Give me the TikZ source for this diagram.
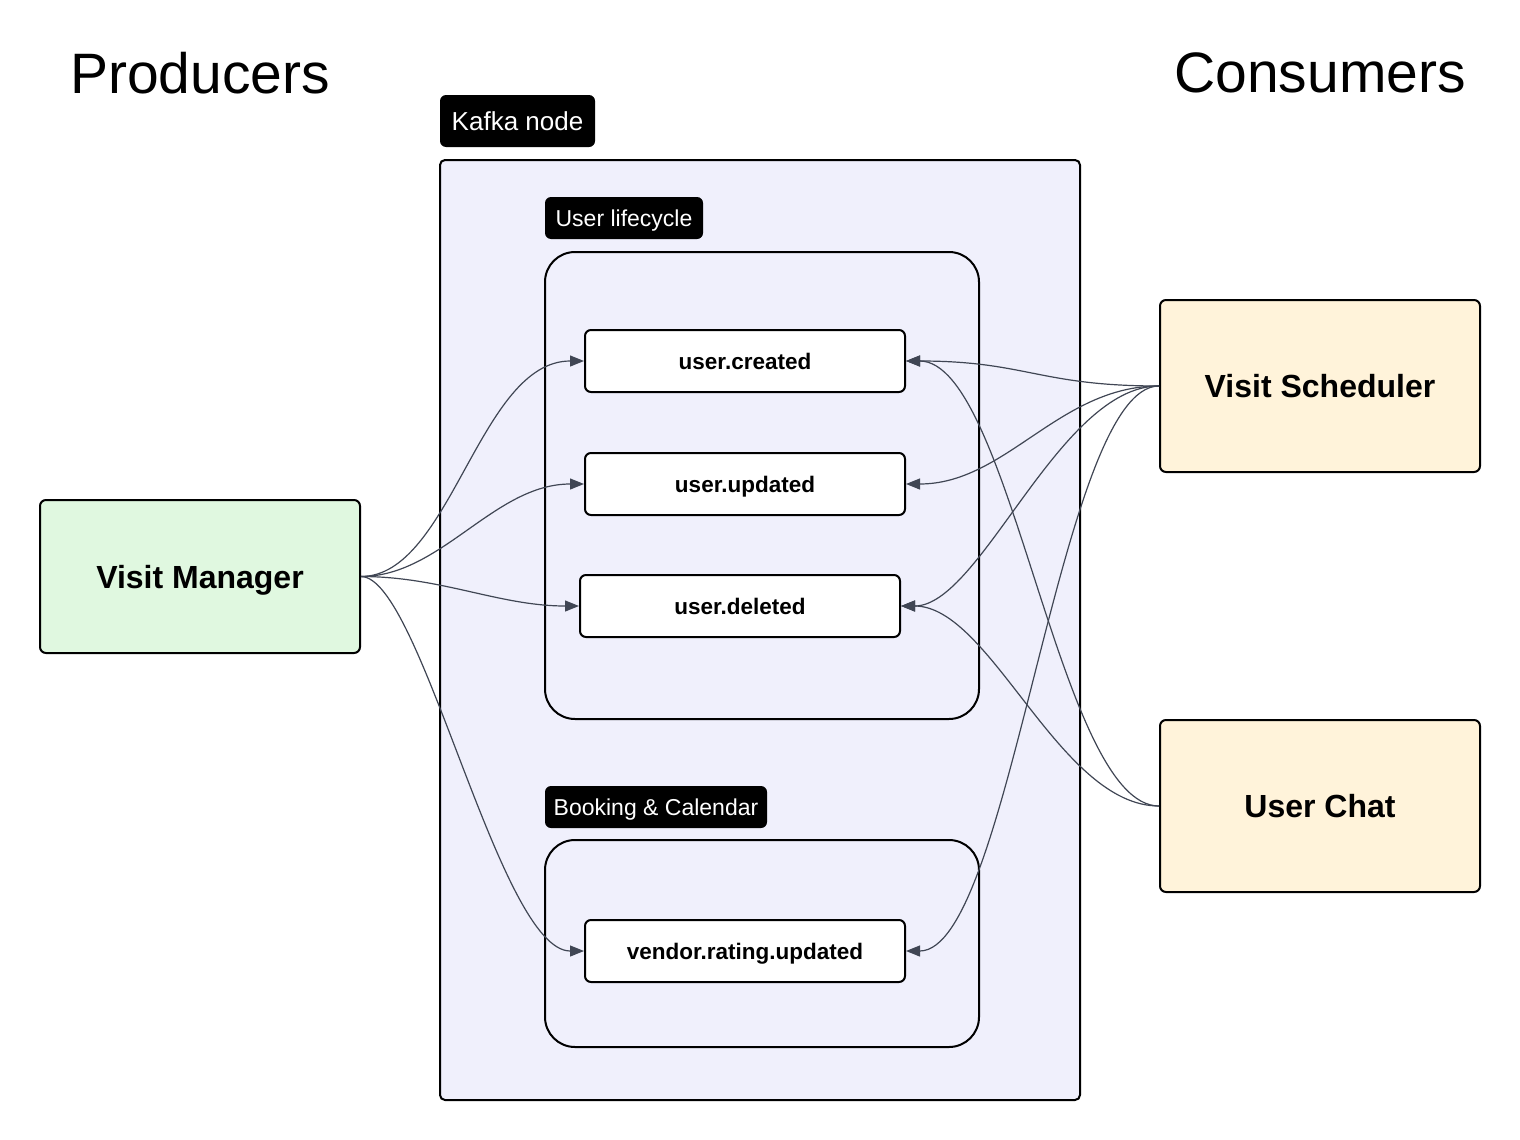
\documentclass[tikz,border=0pt]{standalone}
\usepackage{fontspec}
\setmainfont{Liberation Sans}
\usetikzlibrary{arrows.meta}
\definecolor{kafkafill}{RGB}{240,240,252}
\definecolor{prodfill}{RGB}{224,248,224}
\definecolor{consfill}{RGB}{255,243,218}
\definecolor{edgegray}{RGB}{64,70,84}
\tikzset{
  box/.style={draw=black, line width=2pt, rounded corners=6pt, inner sep=0pt, minimum width=320pt},
  service/.style={box, font=\fontsize{32}{38}\selectfont\bfseries, text height=23pt, text depth=0pt},
  topic/.style={box, fill=white, minimum height=62pt, font=\fontsize{22.5}{27}\selectfont\bfseries, text height=16pt, text depth=0pt},
  tag/.style={fill=black, text=white, rounded corners=6pt, inner sep=0pt, minimum height=42pt, font=\fontsize{23}{28}\selectfont, text height=16.5pt, text depth=0pt},
  group/.style={draw=black, line width=2pt, rounded corners=30pt, inner sep=0pt, minimum width=434pt},
  heading/.style={font=\fontsize{57}{66}\selectfont},
  flow/.style={draw=edgegray, line width=1.2pt, -{Triangle[length=14pt,width=11pt]}}
}
\begin{document}
\begin{tikzpicture}[x=1pt,y=-1pt]
\useasboundingbox (0,0) rectangle (1520,1140);
% columns
\node[heading] (prodhead) at (200,73) {Producers};
\node[heading] (conshead) at (1320,73) {Consumers};
% kafka
\node[draw=black, line width=2pt, fill=kafkafill, rounded corners=5pt, minimum width=640pt, minimum height=940pt] (kafka) at (760,630) {};
\node[tag, minimum width=155pt, minimum height=52pt, font=\fontsize{26}{30}\selectfont, text height=18.5pt] (kafkatag) at (517.5,121) {Kafka node};
\node[group, minimum height=467pt] (lifecycle) at (762,485.5) {};
\node[tag, minimum width=158pt] (lifecycletag) at (624,218) {User lifecycle};
\node[group, minimum height=207pt] (booking) at (762,943.5) {};
\node[tag, minimum width=222pt] (bookingtag) at (656,807) {Booking \& Calendar};
% topics
\node[topic] (created) at (745,361) {user.created};
\node[topic] (updated) at (745,484) {user.updated};
\node[topic] (deleted) at (740,606) {user.deleted};
\node[topic] (vendor) at (745,951) {vendor.rating.updated};
% services
\node[service, fill=prodfill, minimum height=153pt] (manager) at (200,576.5) {Visit Manager};
\node[service, fill=consfill, minimum height=172pt] (scheduler) at (1320,386) {Visit Scheduler};
\node[service, fill=consfill, minimum height=172pt] (chat) at (1320,806) {User Chat};
% producer edges
\draw[flow] (manager.east) .. controls +(90,0) and +(-105,0) .. (created.west);
\draw[flow] (manager.east) .. controls +(80,0) and +(-90,0) .. (updated.west);
\draw[flow] (manager.east) .. controls +(80,0) and +(-80,0) .. (deleted.west);
\draw[flow] (manager.east) .. controls +(60,0) and +(-85,0) .. (vendor.west);
% consumer edges
\draw[flow] (scheduler.west) .. controls +(-120,0) and +(120,0) .. (created.east);
\draw[flow] (scheduler.west) .. controls +(-100,0) and +(100,0) .. (updated.east);
\draw[flow] (scheduler.west) .. controls +(-100,0) and +(80,0) .. (deleted.east);
\draw[flow] (scheduler.west) .. controls +(-100,0) and +(105,0) .. (vendor.east);
\draw[flow] (chat.west) .. controls +(-100,0) and +(105,0) .. (created.east);
\draw[flow] (chat.west) .. controls +(-100,0) and +(90,0) .. (deleted.east);
\end{tikzpicture}
\end{document}
